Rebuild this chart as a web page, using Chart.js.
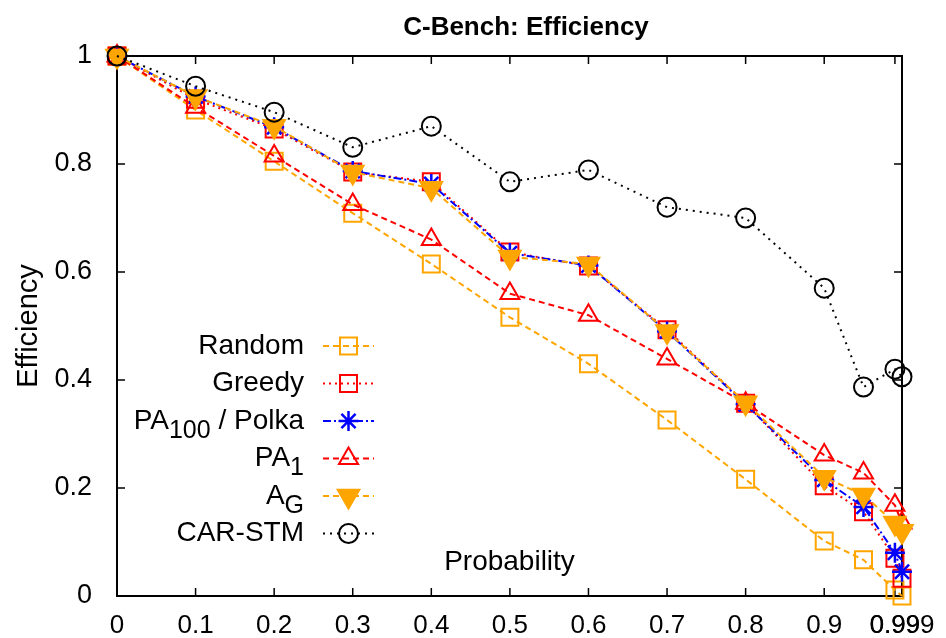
<!DOCTYPE html>
<html>
<head>
<meta charset="utf-8">
<script src="https://cdn.jsdelivr.net/npm/chart.js@4.4.0/dist/chart.umd.min.js"></script>
<style>
  html, body { margin: 0; padding: 0; background: #fff; }
</style>
</head>
<body>
<canvas id="effChart" width="946" height="638"></canvas>
<script>
const probs = [0, 0.1, 0.2, 0.3, 0.4, 0.5, 0.6, 0.7, 0.8, 0.9, 0.95, 0.99, 0.999];
const xTickValues = [0, 0.1, 0.2, 0.3, 0.4, 0.5, 0.6, 0.7, 0.8, 0.9, 0.99, 0.999];

const randomEff = [1, 0.90, 0.805, 0.709, 0.615, 0.516, 0.430, 0.326, 0.216, 0.102, 0.067, 0.011, 0.0];
const greedyEff = [1, 0.920, 0.865, 0.785, 0.767, 0.637, 0.611, 0.493, 0.357, 0.204, 0.156, 0.070, 0.033];
const polkaEff  = [1, 0.925, 0.868, 0.787, 0.763, 0.635, 0.612, 0.490, 0.355, 0.215, 0.165, 0.080, 0.045];
const pa1Eff    = [1, 0.905, 0.815, 0.725, 0.660, 0.560, 0.520, 0.439, 0.357, 0.261, 0.228, 0.168, 0.135];
const agEff     = [1, 0.925, 0.870, 0.785, 0.755, 0.628, 0.615, 0.490, 0.358, 0.220, 0.187, 0.135, 0.120];
const carEff    = [1, 0.944, 0.896, 0.831, 0.870, 0.767, 0.789, 0.720, 0.700, 0.570, 0.387, 0.420, 0.406];

// legend labels: [main, subscript, rest]
const legendLabels = [
  ['Random', '', ''],
  ['Greedy', '', ''],
  ['PA', '100', ' / Polka'],
  ['PA', '1', ''],
  ['A', 'G', ''],
  ['CAR-STM', '', '']
];

const FONT = '"Liberation Sans", Arial, sans-serif';

function series(values, color, dash, style, radius, fill, extra) {
  return Object.assign({
    data: probs.map((p, i) => ({ x: p, y: values[i] })),
    borderColor: color,
    backgroundColor: fill || 'rgba(0,0,0,0)',
    pointBorderColor: color,
    pointBackgroundColor: fill || 'rgba(0,0,0,0)',
    borderWidth: 2,
    borderDash: dash,
    pointStyle: style,
    pointRadius: radius,
    pointHoverRadius: radius,
    pointBorderWidth: 2,
    tension: 0,
    fill: false,
    clip: false
  }, extra || {});
}

const datasets = [
  series(randomEff, '#ffa500', [6, 4], 'rect', 12, null, { order: 5 }),
  series(greedyEff, '#ff0000', [2, 4], 'rect', 12, null, { order: 4 }),
  series(polkaEff, '#0000ff', [8, 3, 2, 3], 'star', 10, null, { order: 3, pointBorderWidth: 2.5 }),
  series(pa1Eff, '#ff0000', [6, 4], 'triangle', 11, null, { order: 2 }),
  series(agEff, '#ffa500', [6, 4], 'triangle', 12.5, '#ffa500', { order: 1, pointRotation: 180 }),
  series(carEff, '#000000', [2, 5], 'circle', 9.5, null, { order: 0 })
];

const framePlugin = {
  id: 'frame',
  beforeDatasetsDraw(chart) {
    const { ctx, chartArea: a, scales } = chart;
    ctx.save();
    ctx.strokeStyle = '#000';
    ctx.lineWidth = 2;
    ctx.strokeRect(a.left, a.top, a.right - a.left, a.bottom - a.top);
    ctx.lineWidth = 1.5;
    ctx.beginPath();
    scales.x.ticks.forEach(t => {
      const px = scales.x.getPixelForValue(t.value);
      ctx.moveTo(px, a.bottom); ctx.lineTo(px, a.bottom - 8);
      ctx.moveTo(px, a.top); ctx.lineTo(px, a.top + 8);
    });
    scales.y.ticks.forEach(t => {
      const py = scales.y.getPixelForValue(t.value);
      ctx.moveTo(a.left, py); ctx.lineTo(a.left + 8, py);
      ctx.moveTo(a.right, py); ctx.lineTo(a.right - 8, py);
    });
    ctx.stroke();
    ctx.restore();
  },
  afterDraw(chart) {
    const { ctx, chartArea: a } = chart;
    ctx.save();
    ctx.fillStyle = '#000';
    ctx.textAlign = 'center';
    ctx.textBaseline = 'middle';
    ctx.font = 'bold 26px ' + FONT;
    ctx.fillText('C-Bench: Efficiency', 526, 28);
    ctx.font = '28px ' + FONT;
    ctx.fillText('Probability', (a.left + a.right) / 2, a.bottom - 34);

    // key box, gnuplot style: text right aligned, sample on the right
    const textRight = 304, lineL = 323, lineR = 374, top0 = 346, step = 37.5;
    chart.data.datasets.forEach((ds, i) => {
      const y = top0 + i * step;
      const [main, sub, rest] = legendLabels[i];
      const bigFont = '28px ' + FONT, subFont = '25px ' + FONT;
      ctx.font = bigFont;
      const w1 = ctx.measureText(main).width, w3 = ctx.measureText(rest).width;
      ctx.font = subFont;
      const w2 = sub ? ctx.measureText(sub).width : 0;
      let x = textRight - (w1 + w2 + w3);
      ctx.textAlign = 'left';
      ctx.textBaseline = 'middle';
      ctx.font = bigFont;
      ctx.fillText(main, x, y);
      x += w1;
      if (sub) {
        ctx.font = subFont;
        ctx.fillText(sub, x, y + 10);
        x += w2;
      }
      ctx.font = bigFont;
      if (rest) ctx.fillText(rest, x, y);

      ctx.strokeStyle = ds.borderColor;
      ctx.lineWidth = ds.borderWidth;
      ctx.setLineDash(ds.borderDash);
      ctx.beginPath();
      ctx.moveTo(lineL, y); ctx.lineTo(lineR, y);
      ctx.stroke();
      ctx.setLineDash([]);
      ctx.fillStyle = ds.pointBackgroundColor;
      ctx.lineWidth = ds.pointBorderWidth;
      Chart.helpers.drawPoint(ctx, {
        pointStyle: ds.pointStyle,
        radius: ds.pointRadius,
        rotation: ds.pointRotation || 0,
        borderWidth: ds.pointBorderWidth
      }, (lineL + lineR) / 2, y);
      ctx.fillStyle = '#000';
    });
    ctx.restore();
  }
};

new Chart(document.getElementById('effChart'), {
  type: 'scatter',
  data: { datasets: datasets },
  options: {
    responsive: false,
    animation: false,
    showLine: true,
    layout: { padding: { left: 0, right: 44, top: 56, bottom: 0 } },
    plugins: {
      legend: { display: false },
      tooltip: { enabled: false },
      title: { display: false }
    },
    scales: {
      x: {
        type: 'linear',
        min: 0,
        max: 0.999,
        afterBuildTicks: s => { s.ticks = xTickValues.map(v => ({ value: v })); },
        afterFit: s => { s.height = 42; },
        grid: { display: false },
        border: { display: false },
        ticks: {
          autoSkip: false,
          maxRotation: 0,
          padding: 6,
          color: '#000',
          font: { family: FONT, size: 26 },
          callback: v => String(v)
        }
      },
      y: {
        min: 0,
        max: 1,
        afterFit: s => { s.width = 117; },
        grid: { display: false },
        border: { display: false },
        ticks: {
          stepSize: 0.2,
          padding: 17,
          color: '#000',
          font: { family: FONT, size: 27 },
          callback: v => String(+v.toFixed(1))
        },
        title: {
          display: true,
          text: 'Efficiency',
          color: '#000',
          font: { family: FONT, size: 29 },
          padding: { top: 12, bottom: 0 }
        }
      }
    }
  },
  plugins: [framePlugin]
});
</script>
</body>
</html>
